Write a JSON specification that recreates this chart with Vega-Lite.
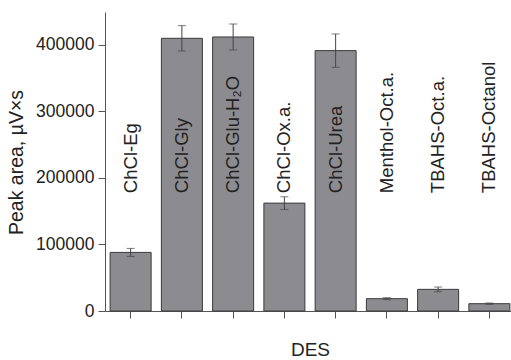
{
  "$schema": "https://vega.github.io/schema/vega-lite/v6.json",
  "width": 406,
  "height": 299,
  "autosize": {"type": "none"},
  "padding": {"left": 105, "top": 12, "right": 0, "bottom": 49},
  "background": "white",
  "config": {"view": {"stroke": null}, "font": "Liberation Sans"},
  "data": {
    "values": [
      {"des": "ChCl-Eg", "value": 88000, "err": 6000},
      {"des": "ChCl-Gly", "value": 409500, "err": 19000},
      {"des": "ChCl-Glu-H₂O", "value": 411500, "err": 19500},
      {"des": "ChCl-Ox.a.", "value": 162000, "err": 9500},
      {"des": "ChCl-Urea", "value": 391000, "err": 25000},
      {"des": "Menthol-Oct.a.", "value": 18500, "err": 1500},
      {"des": "TBAHS-Oct.a.", "value": 32500, "err": 3500},
      {"des": "TBAHS-Octanol", "value": 11000, "err": 1000}
    ]
  },
  "encoding": {
    "x": {
      "field": "des",
      "type": "nominal",
      "sort": null,
      "scale": {"range": [0, 410], "paddingInner": 0.2, "paddingOuter": 0.1},
      "axis": {
        "title": "DES",
        "labels": false,
        "tickSize": 7,
        "tickColor": "#555",
        "domainColor": "#555",
        "titleFontSize": 19,
        "titleFontWeight": "normal",
        "titleColor": "#222",
        "titleBaseline": "alphabetic",
        "titleY": 44
      }
    }
  },
  "layer": [
    {
      "mark": {"type": "bar", "fill": "#8c8c90", "stroke": "#3a3a3a", "strokeWidth": 1},
      "encoding": {
        "y": {
          "field": "value",
          "type": "quantitative",
          "title": "Peak area, µV×s",
          "scale": {"domain": [0, 449000], "nice": false, "zero": true},
          "axis": {
            "values": [0, 50000, 100000, 150000, 200000, 250000, 300000, 350000, 400000],
            "labelExpr": "datum.value % 100000 === 0 ? format(datum.value, 'd') : ''",
            "grid": false,
            "tickSize": {"condition": {"test": "datum.value % 100000 === 0", "value": 7}, "value": 4},
            "tickColor": "#555",
            "domainColor": "#555",
            "labelFontSize": 17.5,
            "labelColor": "#222",
            "labelPadding": 4,
            "titleFontSize": 19.5,
            "titleFontWeight": "normal",
            "titleColor": "#222",
            "titleBaseline": "middle",
            "titleX": -89,
            "titleY": 150
          }
        }
      }
    },
    {
      "mark": {"type": "errorbar", "ticks": {"size": 8, "color": "#444"}, "rule": {"color": "#444"}},
      "encoding": {
        "y": {"field": "value", "type": "quantitative", "title": "Peak area, µV×s"},
        "yError": {"field": "err"}
      }
    },
    {
      "mark": {"type": "text", "angle": 270, "align": "left", "baseline": "middle", "fontSize": 18.5, "color": "#222"},
      "encoding": {
        "y": {"datum": 177000, "type": "quantitative", "title": "Peak area, µV×s"},
        "text": {"field": "des", "type": "nominal"}
      }
    }
  ]
}
